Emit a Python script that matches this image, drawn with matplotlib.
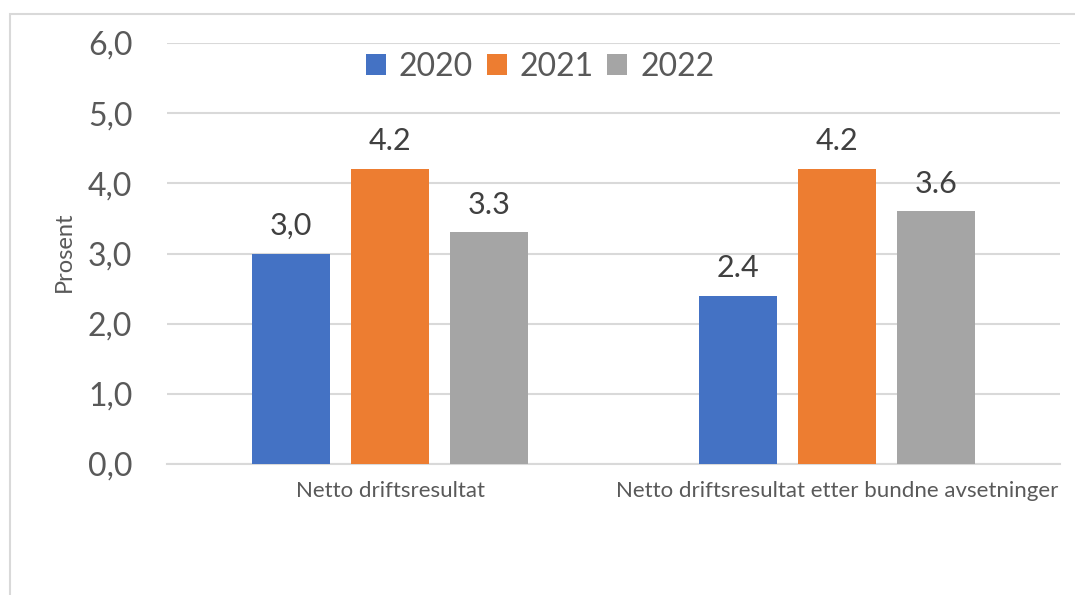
import numpy as np
import matplotlib
matplotlib.use("Agg")
import matplotlib.pyplot as plt
from matplotlib.patches import Rectangle

# data
categories = ["Netto driftsresultat", "Netto driftsresultat etter bundne avsetninger"]
years = ["2020", "2021", "2022"]
values = {
    "2020": [3.0, 2.4],
    "2021": [4.2, 4.2],
    "2022": [3.3, 3.6],
}
bar_labels = {
    "2020": ["3,0", "2.4"],
    "2021": ["4.2", "4.2"],
    "2022": ["3.3", "3.6"],
}
yticks = [0, 1, 2, 3, 4, 5, 6]
ytick_labels = ["0,0", "1,0", "2,0", "3,0", "4,0", "5,0", "6,0"]

colors = {"2020": "#4472C4", "2021": "#ED7D31", "2022": "#A5A5A5"}
text_col = "#595959"
grid_col = "#D9D9D9"

plt.rcParams['font.family'] = ['Lato', 'DejaVu Sans']

fig = plt.figure(figsize=(10.75, 5.95), dpi=100)
ax = fig.add_axes([167 / 1075, 1 - 464 / 595, (1060 - 167) / 1075, (464 - 43) / 595])

# outer chart frame (only left and top edges are visible in the crop)
fig.patches.append(Rectangle((10 / 1075, -0.1), 1.2, 1 - 14 / 595 + 0.1,
                             transform=fig.transFigure, fill=False,
                             edgecolor=grid_col, linewidth=1.5))

x = np.arange(len(categories))
width = 0.175
step = 0.222
for i, yr in enumerate(years):
    pos = x + (i - 1) * step
    bars = ax.bar(pos, values[yr], width, color=colors[yr], label=yr, zorder=3)
    for b, lab in zip(bars, bar_labels[yr]):
        ax.annotate(lab, (b.get_x() + b.get_width() / 2, b.get_height()),
                    xytext=(0, 10), textcoords="offset points",
                    ha="center", va="bottom", fontsize=22, color="#404040")

ax.set_xlim(-0.5, 1.5)
ax.set_ylim(0, 6)
ax.set_yticks(yticks)
ax.set_yticklabels(ytick_labels, fontsize=23, color=text_col)
ax.set_xticks(x)
ax.set_xticklabels(categories, fontsize=16, color=text_col)
ax.tick_params(axis="both", length=0)
ax.tick_params(axis="y", pad=25)
ax.tick_params(axis="x", pad=12)
ax.yaxis.grid(True, color=grid_col, linewidth=1.5, zorder=0)
for s in ["top", "right", "left"]:
    ax.spines[s].set_visible(False)
ax.spines["bottom"].set_color(grid_col)
ax.spines["bottom"].set_linewidth(1.5)
ax.set_axisbelow(True)

fig.text(64 / 1075, 1 - 252 / 595, "Prosent", rotation=90, fontsize=17,
         color=text_col, ha="center", va="center")

fig.legend(loc="center", bbox_to_anchor=(540 / 1075, 1 - 67 / 595), ncol=3,
           frameon=False, fontsize=23, labelcolor=text_col,
           handlelength=0.62, handleheight=0.62, handletextpad=0.4,
           columnspacing=0.44)

fig.savefig("out.png", dpi=100)
